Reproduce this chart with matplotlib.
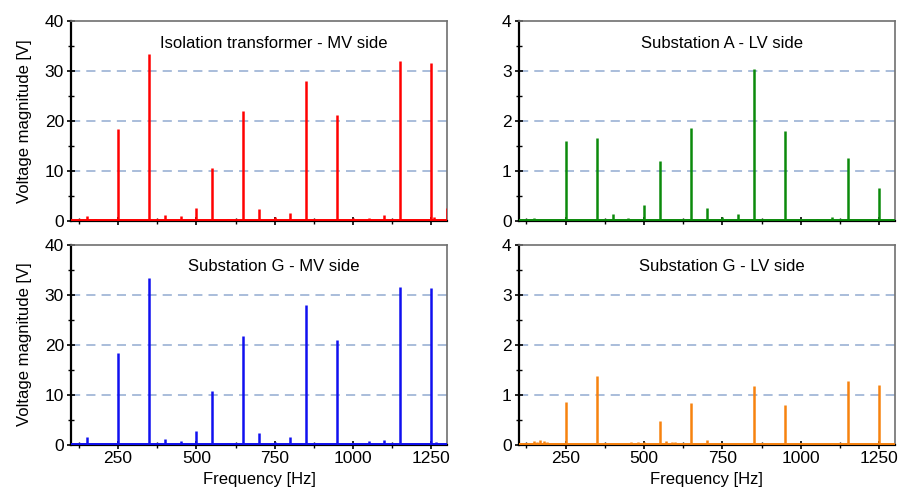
import matplotlib.pyplot as plt
from matplotlib.ticker import MultipleLocator

plt.rcParams['font.family'] = ['Liberation Sans', 'DejaVu Sans']

# harmonic spectra (frequency [Hz], magnitude)
freq_iso = [150, 175, 250, 350, 400, 450, 500, 550, 600, 650, 700, 750, 800, 850,
            900, 950, 1000, 1050, 1100, 1150, 1250, 1260, 1300]
mag_iso = [1.0, 0.4, 18.5, 33.5, 1.3, 1.0, 2.7, 10.6, 0.5, 22.0, 2.5, 0.8, 1.6, 28.0,
           0.3, 21.2, 0.6, 0.6, 1.2, 32.0, 31.7, 0.8, 2.7]

freq_a = [150, 250, 350, 400, 450, 500, 550, 650, 700, 750, 800, 850, 950,
          1000, 1050, 1100, 1150, 1250, 1300]
mag_a = [0.07, 1.6, 1.67, 0.15, 0.07, 0.33, 1.2, 1.86, 0.27, 0.08, 0.14, 3.05, 1.8,
         0.05, 0.04, 0.08, 1.26, 0.67, 0.05]

freq_gmv = [150, 250, 350, 400, 450, 500, 550, 600, 650, 700, 750, 800, 850,
            950, 1000, 1050, 1100, 1150, 1250, 1265]
mag_gmv = [1.6, 18.3, 33.3, 1.2, 0.8, 2.7, 10.7, 0.4, 21.8, 2.3, 0.5, 1.6, 28.0,
           21.0, 0.4, 0.7, 1.0, 31.6, 31.4, 0.5]

freq_glv = [150, 160, 170, 180, 190, 250, 350, 460, 480, 500, 550, 570, 590, 600,
            650, 700, 750, 800, 850, 950, 1100, 1150, 1250]
mag_glv = [0.08, 0.06, 0.09, 0.07, 0.06, 0.86, 1.38, 0.05, 0.06, 0.05, 0.47, 0.07,
           0.06, 0.06, 0.84, 0.1, 0.03, 0.04, 1.18, 0.79, 0.03, 1.27, 1.19]

panels = [
    ('Isolation transformer - MV side', freq_iso, mag_iso, 0.15, '#ff0000', 40),
    ('Substation A - LV side', freq_a, mag_a, 0.015, '#0b8a0b', 4),
    ('Substation G - MV side', freq_gmv, mag_gmv, 0.15, '#1010f0', 40),
    ('Substation G - LV side', freq_glv, mag_glv, 0.015, '#f7820f', 4),
]

positions = [
    [0.0791, 0.5508, 0.4187, 0.4065],
    [0.5774, 0.5508, 0.4193, 0.4065],
    [0.0791, 0.0965, 0.4187, 0.4065],
    [0.5774, 0.0965, 0.4193, 0.4065],
]

fig = plt.figure(figsize=(8.98, 4.92), dpi=100)

for i, (title, f, m, floor, color, ymax) in enumerate(panels):
    ax = fig.add_axes(positions[i])
    ax.plot([100, 1300], [floor, floor], color=color, lw=1.4, zorder=3)
    ax.vlines(f, 0, m, color=color, lw=1.8, zorder=3)
    ax.set_xlim(100, 1300)
    ax.set_ylim(0, ymax)
    ax.xaxis.set_major_locator(MultipleLocator(250))
    ax.xaxis.set_minor_locator(MultipleLocator(125))
    ax.yaxis.set_major_locator(MultipleLocator(ymax / 4))
    ax.yaxis.set_minor_locator(MultipleLocator(ymax / 8))
    for y in [ymax / 4, ymax / 2, ymax * 3 / 4]:
        ax.axhline(y, color='#7f9cc8', lw=1.1, ls=(0, (6, 4)), alpha=0.85, zorder=1)
    for side in ['top', 'right']:
        ax.spines[side].set_color('#707070')
        ax.spines[side].set_linewidth(1.2)
    for side in ['left', 'bottom']:
        ax.spines[side].set_color('black')
        ax.spines[side].set_linewidth(1.6)
    ax.tick_params(which='major', direction='inout', length=6, width=1.2,
                   labelsize=12.5, pad=2)
    ax.tick_params(which='minor', direction='inout', length=4, width=1.0)
    ax.tick_params(top=False, right=False, which='both')
    ax.text(0.54, 0.89, title, transform=ax.transAxes, ha='center', va='center',
            fontsize=12)
    if i < 2:
        ax.tick_params(labelbottom=False)
    else:
        ax.set_xlabel('Frequency [Hz]', fontsize=12, labelpad=4)
    if i % 2 == 0:
        ax.set_ylabel('Voltage magnitude [V]', fontsize=12, labelpad=9)

fig.savefig('out.png', dpi=100)
